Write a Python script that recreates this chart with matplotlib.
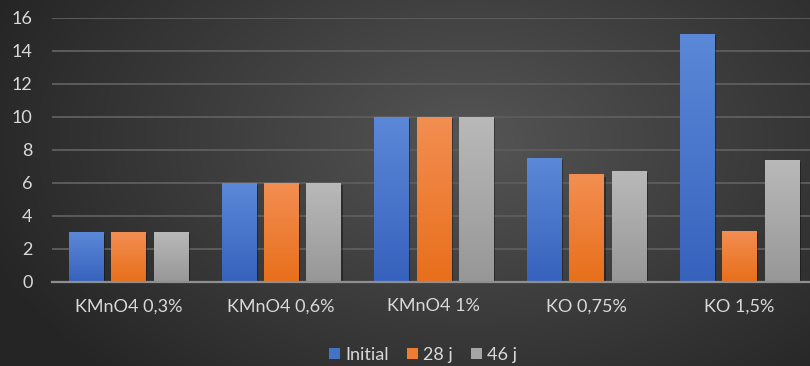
import numpy as np
import matplotlib
matplotlib.use("Agg")
import matplotlib.pyplot as plt
from matplotlib.patches import Patch
from matplotlib.colors import LinearSegmentedColormap
import matplotlib.patheffects as pe

categories = ["KMnO4 0,3%", "KMnO4 0,6%", "KMnO4 1%", "KO 0,75%", "KO 1,5%"]
series_names = ["Initial", "28 j", "46 j"]
initial = [3, 6, 10, 7.5, 15]
j28 = [3, 6, 10, 6.5, 3.1]
j46 = [3, 6, 10, 6.7, 7.4]
yticks = [0, 2, 4, 6, 8, 10, 12, 14, 16]

series = [initial, j28, j46]
grad_colors = [("#3662bd", "#5c88d8"), ("#e86f1b", "#f38e52"), ("#979797", "#b9b9b9")]
solid_colors = ["#4472c4", "#ed7d31", "#a5a5a5"]

plt.rcParams['font.family'] = ['Lato', 'DejaVu Sans']

W, H = 810, 366
fig = plt.figure(figsize=(W / 100, H / 100), dpi=100)

# background radial gradient
bg = fig.add_axes([0, 0, 1, 1], zorder=-10)
yy, xx = np.mgrid[0:H, 0:W]
cx, cy = 470, 140
d = np.sqrt(((xx - cx) / 520.0) ** 2 + ((yy - cy) / 330.0) ** 2)
d = np.clip(d, 0, 1)
val = 0x55 * (1 - d) + 0x25 * d
img = np.dstack([val, val, val]) / 255.0
bg.imshow(img, extent=[0, 1, 0, 1], aspect="auto", origin="upper")
bg.set_axis_off()

left = 52 / W
right = 815.5 / W
bottom = 1 - 281.7 / H
top = 1 - 17.7 / H
ax = fig.add_axes([left, bottom, right - left, top - bottom])
ax.patch.set_alpha(0)

x = np.arange(len(categories))
width = 0.223
step = 0.278
offsets = [-step, 0, step]

grad = np.linspace(0, 1, 256).reshape(-1, 1)
for s, vals, off, (c0, c1), sc in zip(series_names, series, offsets, grad_colors, solid_colors):
    bars = ax.bar(x + off, vals, width, color=sc, zorder=3, label=s,
                  path_effects=[pe.SimplePatchShadow(offset=(1.5, -1.5), shadow_rgbFace="black", alpha=0.35), pe.Normal()])
    cmap = LinearSegmentedColormap.from_list("g", [c0, c1])
    for b in bars:
        x0, y0 = b.get_x(), b.get_y()
        w, h = b.get_width(), b.get_height()
        im = ax.imshow(grad, cmap=cmap, extent=[x0, x0 + w, y0, y0 + h],
                       origin="lower", aspect="auto", zorder=4, interpolation="bilinear")
        im.set_clip_path(b)

ax.set_xlim(-0.5, len(categories) - 0.5)
ax.set_ylim(0, 16)
ax.set_yticks(yticks)
ax.set_xticks(x)
ax.set_xticklabels(categories)
ax.grid(axis="y", color="#5c5c5c", linewidth=1.4, zorder=0)
ax.set_axisbelow(True)
for sp in ["top", "right", "left"]:
    ax.spines[sp].set_visible(False)
ax.spines["bottom"].set_color("#8f8f8f")
ax.spines["bottom"].set_linewidth(1.6)
ax.spines["bottom"].set_zorder(5)
ax.tick_params(axis="both", length=0, colors="#d9d9d9", labelsize=13)
ax.tick_params(axis="y", pad=14)
ax.tick_params(axis="x", pad=12)

handles = [Patch(facecolor=c, edgecolor="none") for c in solid_colors]
leg = fig.legend(handles, series_names, loc="center", bbox_to_anchor=(423 / W, 1 - 355 / H),
                 ncol=3, frameon=False, fontsize=13, handlelength=0.6, handleheight=0.6,
                 handletextpad=0.3, columnspacing=1.0, labelcolor="#d9d9d9")

fig.savefig("out.png", dpi=100)
